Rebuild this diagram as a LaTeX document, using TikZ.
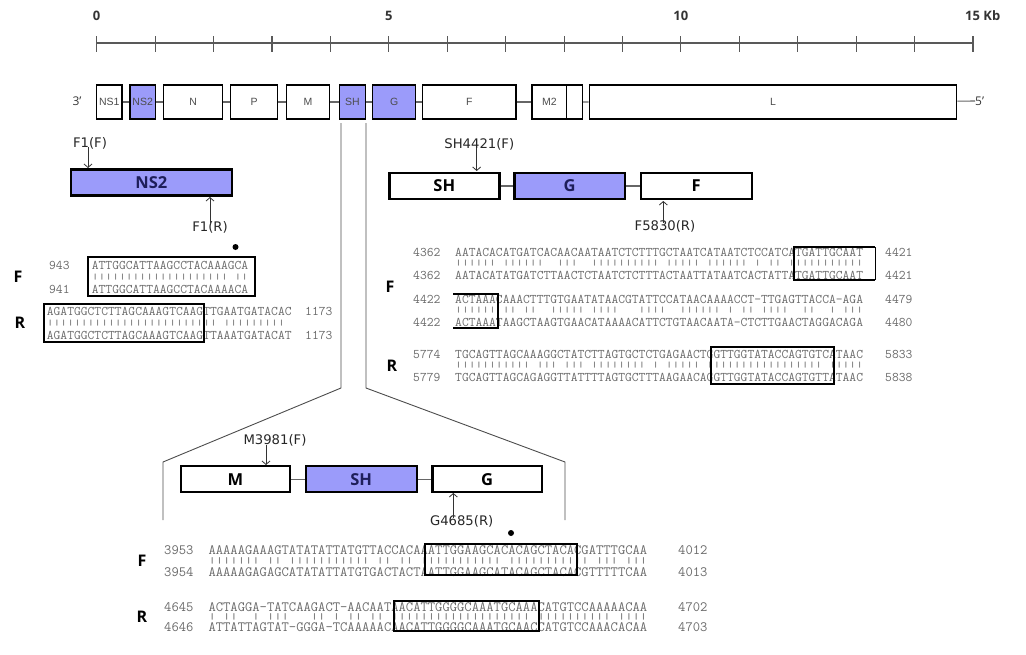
\documentclass[tikz,border=0pt]{standalone}
\usepackage{fontspec}
\setmainfont{Open Sans}
\newfontfamily\genefont{Liberation Sans}
\newfontfamily\primerfont{DejaVu Sans}
\usetikzlibrary{arrows.meta}
\definecolor{hl}{HTML}{9B9BFA}
\definecolor{navy}{HTML}{1E1E5A}
\definecolor{seqgray}{HTML}{6A6A6A}
\newcommand{\barsrow}[1]{\scalebox{1}[0.6]{#1}}
\tikzset{
  rule/.style={draw=black!65, line width=1.1pt},
  kb/.style={font=\bfseries\fontsize{13}{15}\selectfont, text=black!80, inner sep=0pt},
  gene/.style={draw=black, line width=1.4pt, fill=white, minimum height=34pt, inner sep=0pt, font=\genefont\fontsize{10.5}{12}\selectfont, text=black!70},
  genehl/.style={gene, fill=hl},
  link/.style={draw=black!60, line width=1.1pt},
  endlab/.style={font=\fontsize{12}{14}\selectfont, text=black!80, inner sep=0pt},
  guide/.style={draw=black!70, line width=0.9pt},
  part/.style={draw=black, line width=2.4pt, fill=white, minimum height=26pt, inner sep=0pt, font=\bfseries\fontsize{16.5}{18}\selectfont},
  parthl/.style={part, fill=hl, text=navy},
  primer/.style={draw=black!80, line width=0.8pt, -{Straight Barb[length=3.5pt,width=8pt]}},
  plab/.style={font=\primerfont\fontsize{13.2}{15}\selectfont, text=black!85, inner sep=0pt},
  strand/.style={font=\bfseries\fontsize{16}{18}\selectfont, inner sep=0pt},
  seq/.style={anchor=west, inner sep=0pt, text=seqgray, font=\ttfamily\fontsize{13.2}{14}\selectfont},
  seqlow/.style={seq, font=\ttfamily\fontsize{14.2}{15}\selectfont},
  hit/.style={draw=black, line width=1.8pt},
  dot/.style={circle, fill=black, inner sep=0pt, minimum size=6pt},
}

\begin{document}
\begin{tikzpicture}[x=1pt,y=-1pt]
\useasboundingbox (0,0) rectangle (1026,654);

% scale bar (ticks every kb)
\draw[rule] (96.7,43) -- (973,43);
\foreach \i in {0,...,15}{
  \draw[rule] ({96.7+58.42*\i},36) -- ({96.7+58.42*\i},52);
}
\foreach \k in {0,5,10}{
  \node[kb] (kb\k) at ({96.7+58.42*\k},16) {\k};
}
\node[kb, anchor=west] (kb15) at (965,16) {15 Kb};

% genome map
\node[endlab] (end3) at (77,101) {3'};
\foreach \n/\c/\w/\t in {NSone/109.35/25.3/NS1, N/193.2/59/N, P/254/46.6/P, M/308/42.6/M,
                         F/469.35/93.3/F, Mtwo/549.35/34.7/M2, Mtwob/574.5/15.6/, L/773/367.4/L}{
  \node[gene, minimum width=\w pt] (g\n) at (\c,102) {\t};
}
\foreach \n/\c/\w/\t in {NStwo/142.65/25.3/NS2, SH/352.5/26.4/SH, G/394.2/43/G}{
  \node[genehl, minimum width=\w pt] (g\n) at (\c,102) {\t};
}
\node[endlab, anchor=west] (end5) at (975,101) {5'};
\draw[link] (gNSone) -- (gNStwo) -- (gN) -- (gP) -- (gM) -- (gSH) -- (gG) -- (gF) -- (gMtwo);
\draw[link] (gMtwob) -- (gL) -- (end5);

% zoom guides
\coordinate (zl1) at (341,388);
\coordinate (zl2) at (163,462);
\coordinate (zl3) at (163,520);
\coordinate (zr1) at (366,388);
\coordinate (zr2) at (565,462);
\coordinate (zr3) at (565,520);
\draw[guide] (341,123) -- (zl1) -- (zl2) -- (zl3);
\draw[guide] (366,123) -- (zr1) -- (zr2) -- (zr3);

% NS2 detail
\node[parthl, minimum width=160.7pt] (dNStwo) at (151.35,182.35) {NS2};
\node[plab] (f1f) at (90,143) {F1(F)};
\node[plab] (f1r) at (210,227) {F1(R)};
\coordinate (f1ftip) at (88,168);
\coordinate (f1rtip) at (210,197);
\draw[primer] (f1f.south -| f1ftip) ++(0,-2) -- (f1ftip);
\draw[primer] (f1r.north -| f1rtip) ++(0,2) -- (f1rtip);
\node[dot] (dotNS) at (235.5,247) {};

\node[strand] (sF1) at (18,277) {F};
\node[seq] (n943) at (49,265) {943};
\node[seq] (n941) at (49,289) {941};
\node[seq] (a1) at (91.7,265) {ATTGGCATTAAGCCTACAAAGCA};
\node[seq] (b1) at (91.7,277) {\barsrow{||||||||||||||||||||~||}};
\node[seq] (c1) at (91.7,289) {ATTGGCATTAAGCCTACAAAACA};
\draw[hit] (88,257) rectangle (255,296);

\node[strand] (sR1) at (20,323) {R};
\node[seq] (a2) at (46.7,311) {AGATGGCTCTTAGCAAAGTCAAGTTGAATGATACAC};
\node[seq] (b2) at (46.7,323) {\barsrow{|||||||||||||||||||||||||~|||||||||}};
\node[seq] (c2) at (46.7,335) {AGATGGCTCTTAGCAAAGTCAAGTTAAATGATACAT};
\node[seq] (n1173a) at (305,311) {1173};
\node[seq] (n1173b) at (305,335) {1173};
\draw[hit] (44,304) rectangle (204,342);

% SH-G-F detail
\node[part, minimum width=110pt] (rSH) at (444.3,186) {SH};
\node[parthl, minimum width=110.7pt] (rG) at (569.65,186) {G};
\node[part, minimum width=111pt] (rF) at (696.2,186) {F};
\draw[link] (rSH) -- (rG) -- (rF);
\node[plab] (sh4421) at (479.3,144) {SH4421(F)};
\node[plab] (f5830) at (665,226.7) {F5830(R)};
\coordinate (sh4421tip) at (476.7,171);
\coordinate (f5830tip) at (663.3,201);
\draw[primer] (sh4421.south -| sh4421tip) ++(0,-2) -- (sh4421tip);
\draw[primer] (f5830.north -| f5830tip) ++(0,2) -- (f5830tip);

\node[strand] (sF2) at (390,287) {F};
\node[seq] (n4362a) at (413,252) {4362};
\node[seq] (n4362b) at (413,275) {4362};
\node[seq] (a3) at (455,252) {AATACACATGATCACAACAATAATCTCTTTGCTAATCATAATCTCCATCATGATTGCAAT};
\node[seq] (b3) at (455,263.5) {\barsrow{||||||~||||||~~|||~~||||||||||~|||||~||||||~|~||~|||||||||||}};
\node[seq] (c3) at (455,275) {AATACATATGATCTTAACTCTAATCTCTTTACTAATTATAATCACTATTATGATTGCAAT};
\node[seq] (n4421a) at (885,252) {4421};
\node[seq] (n4421b) at (885,275) {4421};
\draw[hit] (875,247) -- (794,247) -- (794,280) -- (875,280);
\draw[black, line width=0.6pt] (875,247) -- (875,280);

\node[seq] (n4422a) at (413,299) {4422};
\node[seq] (n4422b) at (413,322) {4422};
\node[seq] (a4) at (455,299) {ACTAAACAAACTTTGTGAATATAACGTATTCCATAACAAAACCT-TTGAGTTACCA-AGA};
\node[seq] (b4) at (455,310.5) {\barsrow{||||||~||~||~~|||||~||||~~~||||~~||||||~|~||~||||~~||~~|~|||}};
\node[seq] (c4) at (455,322) {ACTAAATAAGCTAAGTGAACATAAAACATTCTGTAACAATA-CTCTTGAACTAGGACAGA};
\node[seq] (n4479) at (885,299) {4479};
\node[seq] (n4480) at (885,322) {4480};
\draw[hit] (453,294) -- (498.3,294) -- (498.3,328) -- (453,328);

\node[strand] (sR2) at (392,366) {R};
\node[seq] (n5774) at (413,354) {5774};
\node[seq] (n5779) at (413,377) {5779};
\node[seq] (a5) at (455,354) {TGCAGTTAGCAAAGGCTATCTTAGTGCTCTGAGAACTGGTTGGTATACCAGTGTCATAAC};
\node[seq] (b5) at (455,365.5) {\barsrow{|||||||||||~|||~|||~||||||||~|~|||||~|||||||||||||||||~|||||}};
\node[seq] (c5) at (455,377) {TGCAGTTAGCAGAGGTTATTTTAGTGCTTTAAGAACAGGTTGGTATACCAGTGTTATAAC};
\node[seq] (n5833) at (885,354) {5833};
\node[seq] (n5838) at (885,377) {5838};
\draw[hit] (711,347) rectangle (834,384);

% M-SH-G detail
\node[part, minimum width=109pt] (lM) at (235.5,479.2) {M};
\node[parthl, minimum width=111pt] (lSH) at (361.2,479.2) {SH};
\node[part, minimum width=109.4pt] (lG) at (487,479.2) {G};
\draw[link] (lM) -- (lSH) -- (lG);
\node[plab] (m3981) at (275,440.7) {M3981(F)};
\node[plab] (g4685) at (461.7,521.7) {G4685(R)};
\coordinate (m3981tip) at (266,465);
\coordinate (g4685tip) at (453.3,493);
\draw[primer] (m3981.south -| m3981tip) ++(0,-2) -- (m3981tip);
\draw[primer] (g4685.north -| g4685tip) ++(0,2) -- (g4685tip);
\node[dot] (dotSH) at (511,533) {};

\node[strand] (sF3) at (142,561) {F};
\node[seqlow] (n3953) at (164,550) {3953};
\node[seqlow] (n3954) at (164,572) {3954};
\node[seqlow] (a6) at (208.3,550) {AAAAAGAAAGTATATATTATGTTACCACAAATTGGAAGCACACAGCTACACGATTTGCAA};
\node[seqlow] (b6) at (208.3,561) {\barsrow{|||||||~||~|||||||||||~||~||~|||||||||||~|||||||||||~|||~|||}};
\node[seqlow] (c6) at (208.3,572) {AAAAAGAGAGCATATATTATGTGACTACTAATTGGAAGCATACAGCTACACGTTTTTCAA};
\node[seqlow] (n4012) at (678,550) {4012};
\node[seqlow] (n4013) at (678,572) {4013};
\draw[hit] (425,544) rectangle (576.7,575);

\node[strand] (sR3) at (142,617) {R};
\node[seqlow] (n4645) at (164,607) {4645};
\node[seqlow] (n4646) at (164,627) {4646};
\node[seqlow] (a7) at (208.3,607) {ACTAGGA-TATCAAGACT-AACAATAACATTGGGGCAAATGCAAACATGTCCAAAAACAA};
\node[seqlow] (b7) at (208.3,617) {\barsrow{|~||~~|~|||~~~||~|~||~||~|||||||||||||||||||~||||||||||~||||}};
\node[seqlow] (c7) at (208.3,627) {ATTATTAGTAT-GGGA-TCAAAAACAACATTGGGGCAAATGCAACCATGTCCAAACACAA};
\node[seqlow] (n4702) at (678,607) {4702};
\node[seqlow] (n4703) at (678,627) {4703};
\draw[hit] (394.3,600.7) rectangle (539,631);
\end{tikzpicture}
\end{document}
